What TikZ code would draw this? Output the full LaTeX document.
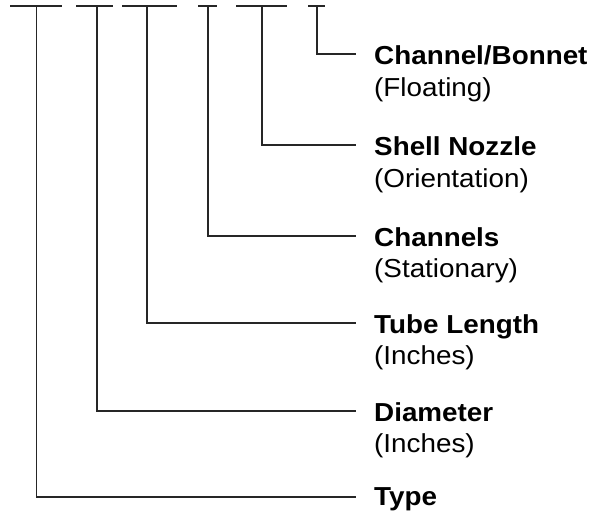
\documentclass[tikz,border=0pt]{standalone}
\usepackage{fontspec}
\setmainfont{Liberation Sans}[FakeStretch=1.07]
\begin{document}
\begin{tikzpicture}[x=1pt,y=-1pt,
  bar/.style={line width=2.8pt,draw=black!85},
  conn/.style={line width=1.2pt,draw=black!85},
  ttl/.style={anchor=base west,inner sep=0pt,font=\fontsize{26}{31}\selectfont\bfseries},
  sub/.style={anchor=base west,inner sep=0pt,font=\fontsize{26}{31}\selectfont}]
\useasboundingbox (0,0) rectangle (593,512);
% top bars
\draw[bar] (10,6) -- (62,6);
\draw[bar] (76,6) -- (113,6);
\draw[bar] (122,6) -- (177,6);
\draw[bar] (198,6) -- (217,6);
\draw[bar] (236,6) -- (287,6);
\draw[bar] (308,6) -- (325,6);
% connector starts
\coordinate (s1) at (36.5,6);
\coordinate (s2) at (97,6);
\coordinate (s3) at (147,6);
\coordinate (s4) at (208,6);
\coordinate (s5) at (262,6);
\coordinate (s6) at (317,6);
% connector ends
\coordinate (e6) at (356,54);
\coordinate (e5) at (356,145);
\coordinate (e4) at (356,236);
\coordinate (e3) at (356,323);
\coordinate (e2) at (356,411);
\coordinate (e1) at (356,497);
% labels
\node[ttl] (t6) at (374,64) {Channel/Bonnet};
\node[sub] (u6) at (374,96) {(Floating)};
\node[ttl] (t5) at (374,155) {Shell Nozzle};
\node[sub] (u5) at (374,187) {(Orientation)};
\node[ttl] (t4) at (374,246) {Channels};
\node[sub] (u4) at (374,277) {(Stationary)};
\node[ttl] (t3) at (374,333) {Tube Length};
\node[sub] (u3) at (374,364) {(Inches)};
\node[ttl] (t2) at (374,421) {Diameter};
\node[sub] (u2) at (374,452) {(Inches)};
\node[ttl] (t1) at (374,505) {Type};
% connectors
\draw[conn] (s6) |- (e6);
\draw[conn] (s5) |- (e5);
\draw[conn] (s4) |- (e4);
\draw[conn] (s3) |- (e3);
\draw[conn] (s2) |- (e2);
\draw[conn] (s1) |- (e1);
\end{tikzpicture}
\end{document}
